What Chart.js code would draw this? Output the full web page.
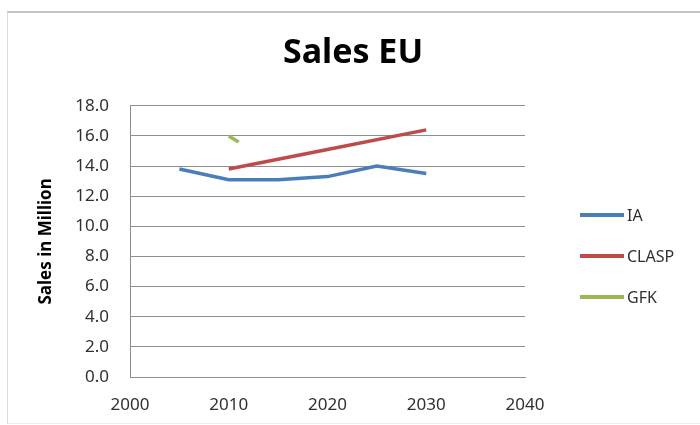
<!DOCTYPE html>
<html>
<head>
<meta charset="utf-8">
<script src="https://cdn.jsdelivr.net/npm/chart.js"></script>
<style>
    html, body { margin: 0; padding: 0; background: #fff; }
    #wrap { position: relative; width: 700px; height: 425px; overflow: hidden; }
    #frame {
        position: absolute; left: 7px; top: 11px; width: 720px; height: 410px;
        border-top: 2px solid #c4c4c4; border-left: 1px solid #dadada; border-bottom: 1px solid #ececec;
    }
    canvas { position: absolute; left: 0; top: 0; }
    #legend { position: absolute; left: 580px; top: 0; font-family: "Noto Sans", sans-serif; font-size: 16px; color: #303030; }
    .item { position: absolute; left: 0; white-space: nowrap; display: flex; align-items: center; }
    .item span.sw { display: inline-block; width: 44px; height: 4px; margin-right: 3px; }
</style>
</head>
<body>
<div id="wrap">
    <div id="frame"></div>
    <canvas id="c" width="700" height="425"></canvas>
    <div id="legend"></div>
</div>
<script>
// series
const iaYears = [2005, 2010, 2015, 2020, 2025, 2030];
const iaSales = [13.8, 13.1, 13.1, 13.3, 14.0, 13.5];
const claspYears = [2010, 2020, 2030];
const claspSales = [13.8, 15.1, 16.4];
const gfkYears = [2010, 2011];
const gfkSales = [16.0, 15.6];

const seriesNames = ["IA", "CLASP", "GFK"];
const seriesColors = ["#4a7ebb", "#be4b48", "#98b954"];

// axes
const xTicks = [2000, 2010, 2020, 2030, 2040];
const yTicks = [0, 2, 4, 6, 8, 10, 12, 14, 16, 18];

const pts = (xs, ys) => xs.map((x, i) => ({ x, y: ys[i] }));

const datasets = [pts(iaYears, iaSales), pts(claspYears, claspSales), pts(gfkYears, gfkSales)]
    .map((data, i) => ({
        label: seriesNames[i],
        data,
        borderColor: seriesColors[i],
        backgroundColor: seriesColors[i],
        borderWidth: 3.5,
        pointRadius: 0,
        tension: 0
    }));

const gridColor = "#8e8e8e";
const tickFont = { family: "Noto Sans", size: 17 };

new Chart(document.getElementById("c"), {
    type: "line",
    data: { datasets },
    options: {
        responsive: false,
        animation: false,
        layout: { padding: { left: 6, right: 0, top: 0, bottom: 0 } },
        plugins: {
            legend: { display: false },
            tooltip: { enabled: false },
            title: {
                display: true,
                text: "Sales EU",
                color: "#000",
                font: { family: "Noto Sans", size: 34, weight: "bold", lineHeight: 1.2 },
                padding: { top: 33, bottom: 32 }
            }
        },
        scales: {
            x: {
                type: "linear",
                min: xTicks[0],
                max: xTicks[xTicks.length - 1],
                afterBuildTicks: s => { s.ticks = xTicks.map(v => ({ value: v })); },
                afterFit: s => { s.height = 48; },
                grid: { display: false, drawTicks: false },
                border: { display: true, color: gridColor, width: 1 },
                ticks: { color: "#303030", font: tickFont, padding: 18, maxRotation: 0, callback: v => String(v) }
            },
            y: {
                min: 0,
                max: 18,
                afterBuildTicks: s => { s.ticks = yTicks.map(v => ({ value: v })); },
                afterFit: s => { s.width = 124; },
                grid: { color: gridColor, lineWidth: 1, drawTicks: false },
                border: { display: true, color: gridColor, width: 1 },
                ticks: {
                    color: "#303030",
                    font: tickFont,
                    padding: 21,
                    callback: v => Number(v).toFixed(1)
                },
                title: {
                    display: true,
                    text: "Sales in Million",
                    color: "#000",
                    font: { family: "Noto Sans", size: 17, weight: "bold" },
                    padding: { top: 30, bottom: 0 }
                }
            },
            // empty band on the right that leaves room for the legend
            side: {
                type: "linear",
                position: "right",
                display: true,
                afterFit: s => { s.width = 175; },
                grid: { display: false, drawTicks: false },
                border: { display: false },
                ticks: { display: false }
            }
        }
    }
});

// legend on the right, one row per series
const legendRows = [215, 256, 297];
const legend = document.getElementById("legend");
seriesNames.forEach((name, i) => {
    const row = document.createElement("div");
    row.className = "item";
    row.style.top = (legendRows[i] - 11) + "px";
    row.innerHTML = '<span class="sw" style="background:' + seriesColors[i] + '"></span>' + name;
    legend.appendChild(row);
});
</script>
</body>
</html>
